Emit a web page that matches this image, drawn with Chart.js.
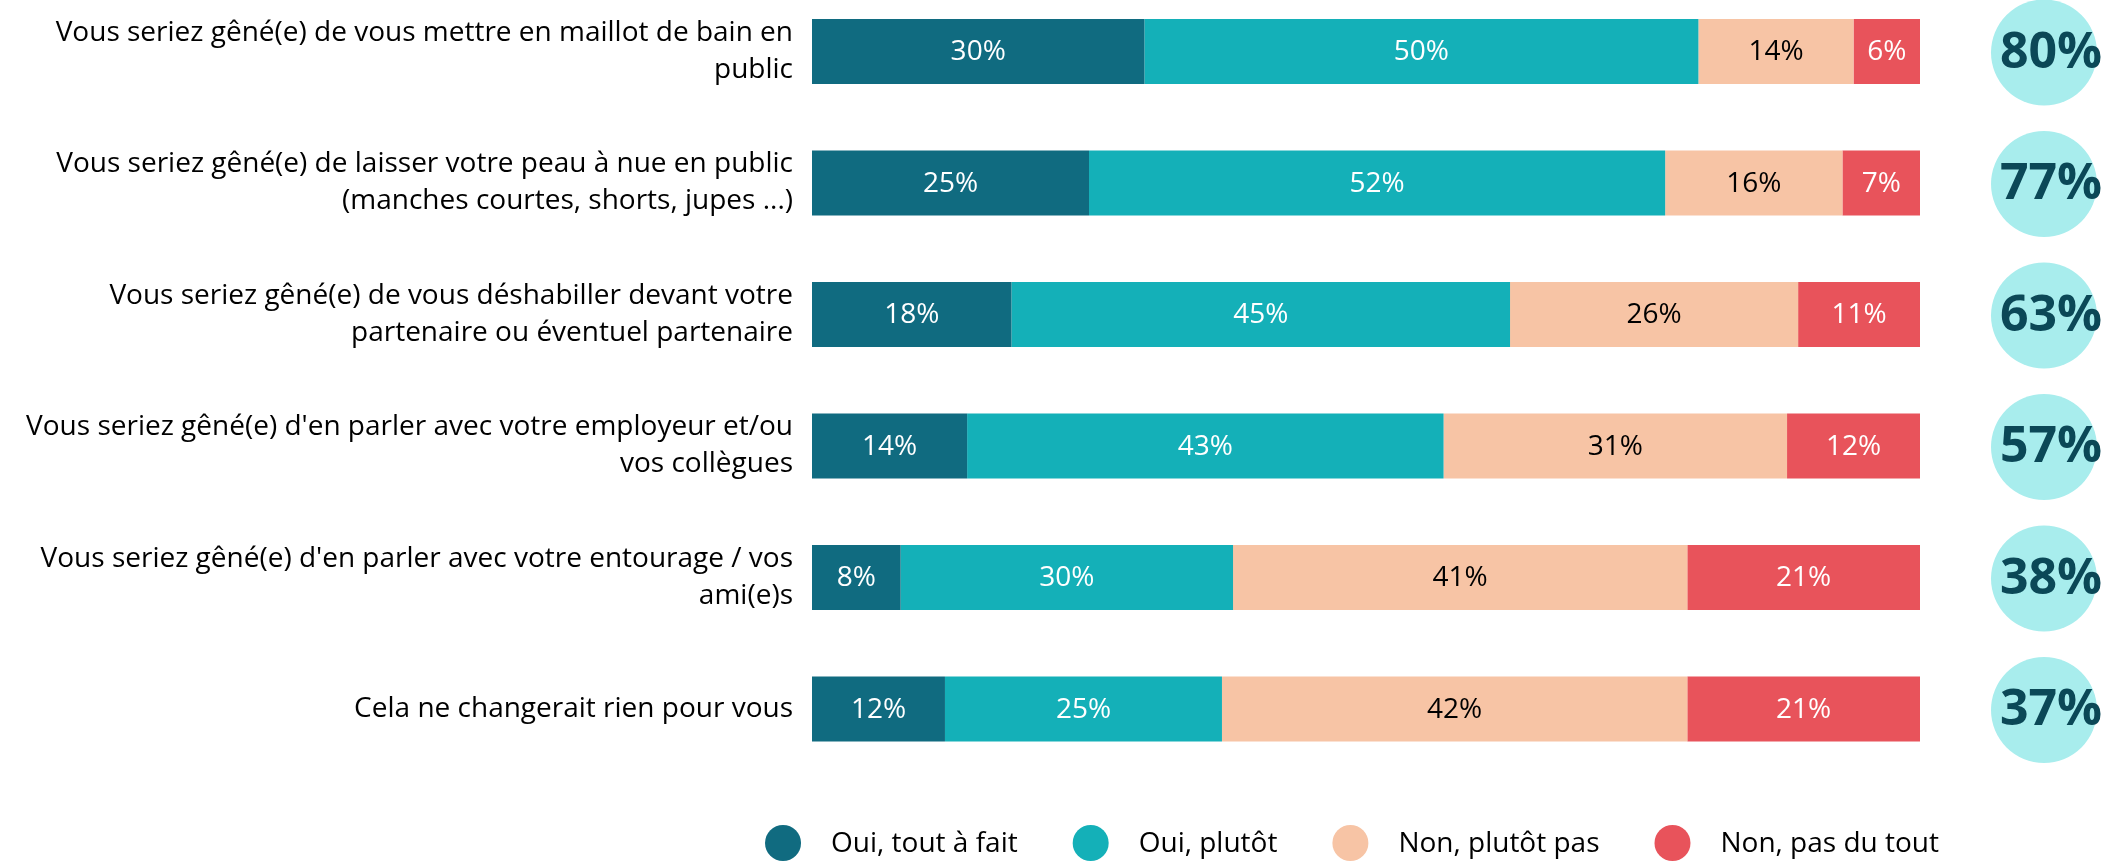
<!DOCTYPE html>
<html lang="fr">
<head>
<meta charset="utf-8">
<title>Gêne ressentie</title>
<script src="https://cdn.jsdelivr.net/npm/chart.js@4.4.1/dist/chart.umd.min.js"></script>
<style>
  html, body { margin: 0; padding: 0; background: #fff; }
</style>
</head>
<body>
<canvas id="geneChart" width="2125" height="865"></canvas>
<script>
const statements = [
    ['Vous seriez gêné(e) de vous mettre en maillot de bain en', 'public'],
    ['Vous seriez gêné(e) de laisser votre peau à nue en public', '(manches courtes, shorts, jupes ...)'],
    ['Vous seriez gêné(e) de vous déshabiller devant votre', 'partenaire ou éventuel partenaire'],
    ["Vous seriez gêné(e) d'en parler avec votre employeur et/ou", 'vos collègues'],
    ["Vous seriez gêné(e) d'en parler avec votre entourage / vos", 'ami(e)s'],
    ['Cela ne changerait rien pour vous']
];
const answers = ['Oui, tout à fait', 'Oui, plutôt', 'Non, plutôt pas', 'Non, pas du tout'];
const ouiToutAFait = [30, 25, 18, 14, 8, 12];
const ouiPlutot = [50, 52, 45, 43, 30, 25];
const nonPlutotPas = [14, 16, 26, 31, 41, 42];
const nonPasDuTout = [6, 7, 11, 12, 21, 21];
const totalOui = [80, 77, 63, 57, 38, 37];

const FONT = '"Open Sans", "Noto Sans", sans-serif';

// percentage written in the middle of each segment
const segmentLabels = {
    id: 'segmentLabels',
    afterDatasetsDraw(chart) {
        const ctx = chart.ctx;
        ctx.save();
        ctx.font = '28px ' + FONT;
        ctx.textAlign = 'center';
        ctx.textBaseline = 'middle';
        chart.data.datasets.forEach((ds, i) => {
            ctx.fillStyle = ds.valueColor;
            chart.getDatasetMeta(i).data.forEach((bar, j) => {
                ctx.fillText(ds.data[j] + '%', (bar.x + bar.base) / 2, bar.y + 1);
            });
        });
        ctx.restore();
    }
};

// "oui" total in a round badge right of each bar
const ouiBadges = {
    id: 'ouiBadges',
    afterDatasetsDraw(chart) {
        const { ctx, chartArea } = chart;
        const cx = chartArea.right + 124;
        ctx.save();
        chart.getDatasetMeta(0).data.forEach((bar, j) => {
            ctx.beginPath();
            ctx.arc(cx, bar.y + 1, 53, 0, Math.PI * 2);
            ctx.fillStyle = '#a8eded';
            ctx.fill();
            ctx.font = 'bold 50px ' + FONT;
            ctx.textAlign = 'center';
            ctx.textBaseline = 'middle';
            ctx.fillStyle = '#0b4857';
            ctx.fillText(totalOui[j] + '%', cx + 7, bar.y + 2);
        });
        ctx.restore();
    }
};

// legend row with round swatches under the bars
const answerLegend = {
    id: 'answerLegend',
    afterDraw(chart) {
        const { ctx, chartArea } = chart;
        const r = 18, gap = 30, spacing = 55;
        ctx.save();
        ctx.font = '28px ' + FONT;
        ctx.textBaseline = 'middle';
        const items = chart.data.datasets.map(ds => ({
            text: ds.label,
            color: ds.backgroundColor,
            w: 2 * r + gap + ctx.measureText(ds.label).width
        }));
        const total = items.reduce((s, it) => s + it.w, 0) + spacing * (items.length - 1);
        let x = (chartArea.left + chartArea.right - total) / 2 - 14;
        const y = chart.height - 22;
        items.forEach(it => {
            ctx.beginPath();
            ctx.arc(x + r, y, r, 0, Math.PI * 2);
            ctx.fillStyle = it.color;
            ctx.fill();
            ctx.fillStyle = '#000';
            ctx.fillText(it.text, x + 2 * r + gap, y + 1);
            x += it.w + spacing;
        });
        ctx.restore();
    }
};

const ctx = document.getElementById('geneChart').getContext('2d');
new Chart(ctx, {
    type: 'bar',
    data: {
        labels: statements,
        datasets: [
            { label: answers[0], data: ouiToutAFait, backgroundColor: '#106b80', valueColor: '#fff' },
            { label: answers[1], data: ouiPlutot, backgroundColor: '#14b0b8', valueColor: '#fff' },
            { label: answers[2], data: nonPlutotPas, backgroundColor: '#f7c4a5', valueColor: '#000' },
            { label: answers[3], data: nonPasDuTout, backgroundColor: '#e8535b', valueColor: '#fff' }
        ]
    },
    options: {
        indexAxis: 'y',
        responsive: false,
        animation: false,
        barPercentage: 0.494,
        categoryPercentage: 1,
        datasets: { bar: { clip: false } },
        // first and last rows sit on the edges of the plot area
        layout: { padding: { top: 51.5, bottom: 156, left: 0, right: 205 } },
        plugins: {
            legend: { display: false },
            tooltip: { enabled: false }
        },
        scales: {
            x: { stacked: true, min: 0, max: 100, display: false },
            y: {
                stacked: true,
                offset: false,
                grid: { display: false, drawTicks: false, offset: false },
                border: { display: false },
                afterFit: (scale) => { scale.width = 812; },
                ticks: {
                    color: '#000',
                    padding: 19,
                    font: { family: FONT, size: 28, lineHeight: 1.32 }
                }
            }
        }
    },
    plugins: [segmentLabels, ouiBadges, answerLegend]
});
</script>
</body>
</html>
